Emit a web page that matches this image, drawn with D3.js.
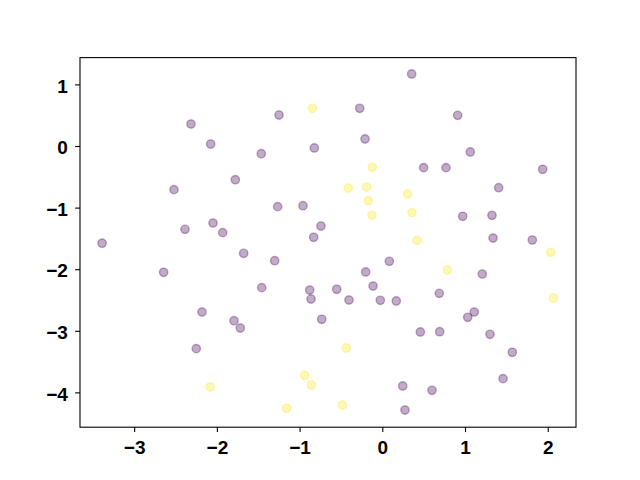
<!DOCTYPE html>
<html>
<head>
<meta charset="utf-8">
<script src="https://cdn.jsdelivr.net/npm/d3@7"></script>
<style>
  body { margin: 0; background: #fff; }
  .tick text { font-family: "Liberation Sans", Arial, sans-serif; font-weight: bold; font-size: 19px; fill: #000; }
</style>
</head>
<body>
<script>
// class 0 points (purple)
var purpleX = [-3.388, -2.644, -2.313, -2.075, -2.519, -1.777, -2.386, -2.047, -1.93, -1.676, -2.18, -1.793, -1.717, -2.249,
  0.355, -1.249, -0.273, -1.463, -0.822, -0.209, -1.265, -0.959, -0.741, -0.83,
  0.911, 1.064, 0.5, 0.77, 1.939, 1.407, 0.972, 1.326, 1.339, 1.814,
  -1.301, 0.085, -0.201, -0.112, -1.458, -0.878, -0.551, -0.862, -0.403, -0.024, 0.169, -0.733, 0.247, 0.274,
  1.209, 0.689, 1.112, 1.033, 0.46, 0.694, 1.302, 1.572, 1.46, 0.601];
var purpleY = [-1.578, -2.05, 0.357, 0.032, -0.709, -0.547, -1.353, -1.25, -1.407, -1.742, -2.695, -2.836, -2.955, -3.29,
  1.169, 0.503, 0.612, -0.125, -0.032, 0.114, -0.985, -0.969, -1.299, -1.482,
  0.498, -0.097, -0.352, -0.352, -0.378, -0.677, -1.141, -1.125, -1.494, -1.526,
  -1.862, -1.872, -2.045, -2.273, -2.3, -2.338, -2.326, -2.484, -2.5, -2.505, -2.516, -2.813, -3.896, -4.286,
  -2.078, -2.392, -2.695, -2.781, -3.019, -3.015, -3.057, -3.349, -3.777, -3.966];

// class 1 points (yellow)
var yellowX = [-2.083, -0.845, -0.121, -0.411, -0.189, -0.169, -0.125, 0.307, 0.359, 0.42,
  -0.435, -0.938, -0.858, -1.156, -0.484, 2.036, 0.786, 2.068];
var yellowY = [-3.912, 0.612, -0.346, -0.682, -0.666, -0.888, -1.125, -0.779, -1.082, -1.531,
  -3.279, -3.722, -3.88, -4.258, -4.205, -1.726, -2.013, -2.468];

var xTicks = [-3, -2, -1, 0, 1, 2];
var yTicks = [1, 0, -1, -2, -3, -4];

var width = 640, height = 480;
var margin = {top: 57.6, right: 64, bottom: 52.8, left: 80};

var svg = d3.select("body").append("svg")
    .attr("width", width)
    .attr("height", height);

var x = d3.scaleLinear().domain([-3.655, 2.342]).range([margin.left, width - margin.right]);
var y = d3.scaleLinear().domain([-4.565, 1.435]).range([height - margin.bottom, margin.top]);

var points = [];
purpleX.forEach(function(v, i) { points.push({x: v, y: purpleY[i], c: "#440154"}); });
yellowX.forEach(function(v, i) { points.push({x: v, y: yellowY[i], c: "#fde725"}); });

svg.append("g").selectAll("circle")
    .data(points)
  .enter().append("circle")
    .attr("cx", function(d) { return x(d.x); })
    .attr("cy", function(d) { return y(d.y); })
    .attr("r", 4.17)
    .style("fill", function(d) { return d.c; })
    .style("fill-opacity", 0.33)
    .style("stroke", function(d) { return d.c; })
    .style("stroke-opacity", 0.33)
    .style("stroke-width", 1.39);

// frame
svg.append("rect")
    .attr("x", margin.left)
    .attr("y", margin.top)
    .attr("width", width - margin.left - margin.right)
    .attr("height", height - margin.top - margin.bottom)
    .style("fill", "none")
    .style("stroke", "#000")
    .style("stroke-width", 1.1);

var fmt = function(d) { return d < 0 ? "\u2212" + Math.abs(d) : d; };

// x axis
var gx = svg.append("g")
    .attr("transform", "translate(0," + (height - margin.bottom) + ")")
    .call(d3.axisBottom(x).tickValues(xTicks).tickSize(4.9).tickPadding(8.5).tickFormat(fmt));
gx.select(".domain").remove();
gx.selectAll(".tick line").style("stroke-width", 1.1);

// y axis
var gy = svg.append("g")
    .attr("transform", "translate(" + margin.left + ",0)")
    .call(d3.axisLeft(y).tickValues(yTicks).tickSize(4.9).tickPadding(7.2).tickFormat(fmt));
gy.select(".domain").remove();
gy.selectAll(".tick line").style("stroke-width", 1.1);
gy.selectAll(".tick text").attr("dy", "0.4em");
</script>
</body>
</html>
